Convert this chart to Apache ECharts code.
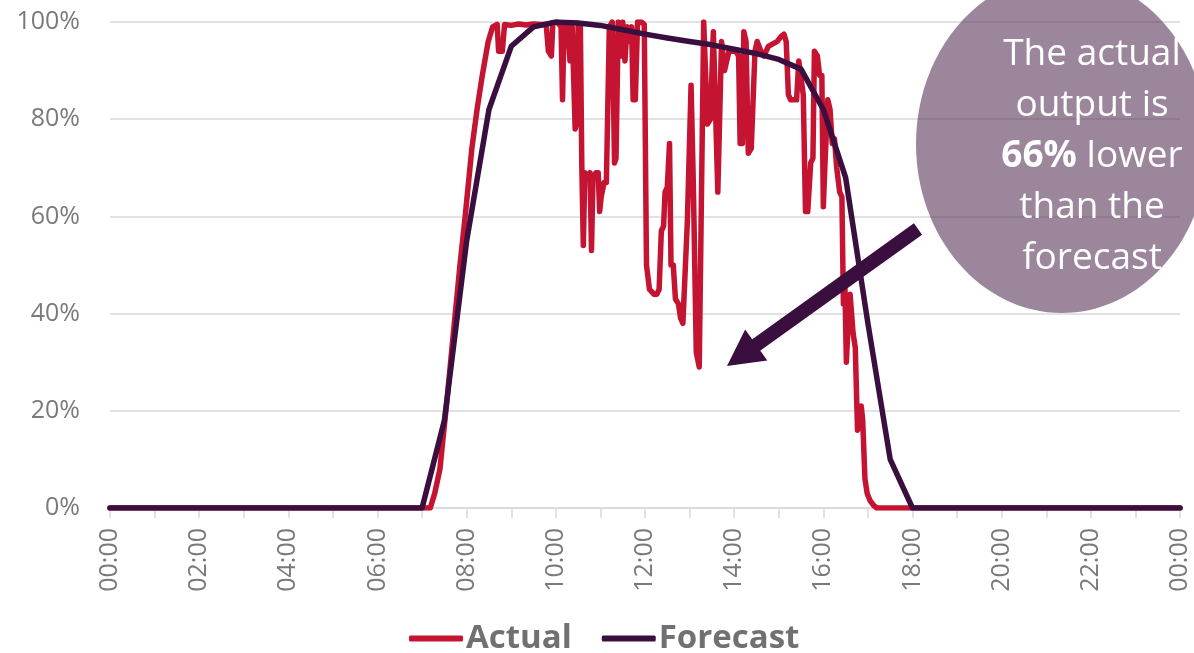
<!DOCTYPE html>
<html>
<head>
<meta charset="utf-8">
<script src="https://cdn.jsdelivr.net/npm/echarts@6/dist/echarts.min.js"></script>
<style>
html,body{margin:0;padding:0;background:#fff;}
#chart{width:1194px;height:653px;}
</style>
</head>
<body>
<div id="chart"></div>
<script>
// ---- Data ----
const xTickHours = [0,2,4,6,8,10,12,14,16,18,20,22,24];
const yTicks = [0,20,40,60,80,100];

const actualTimes = ["00:00","07:11","07:17","07:24","07:34","07:44","07:51","07:58","08:07","08:14","08:21","08:29","08:35","08:41","08:43","08:48","08:51","09:00","09:10","09:20","09:30","09:40","09:47","09:50","09:54","09:56","10:02","10:07","10:09","10:11","10:16","10:19","10:22","10:24","10:26","10:28","10:30","10:33","10:35","10:37","10:39","10:43","10:46","10:48","10:50","10:54","10:57","10:59","11:01","11:05","11:08","11:12","11:16","11:19","11:21","11:24","11:27","11:28","11:30","11:33","11:36","11:39","11:42","11:44","11:47","11:50","11:55","11:59","12:02","12:04","12:06","12:12","12:16","12:19","12:22","12:25","12:27","12:30","12:33","12:35","12:38","12:41","12:45","12:48","12:51","12:57","13:02","13:05","13:09","13:13","13:15","13:19","13:24","13:28","13:32","13:38","13:43","13:47","13:53","14:02","14:06","14:08","14:11","14:13","14:16","14:19","14:23","14:28","14:31","14:36","14:40","14:46","14:52","14:58","15:03","15:07","15:10","15:13","15:16","15:20","15:24","15:27","15:29","15:33","15:36","15:39","15:43","15:46","15:48","15:52","15:55","15:58","16:00","16:02","16:06","16:09","16:12","16:15","16:18","16:22","16:25","16:27","16:29","16:31","16:34","16:36","16:40","16:43","16:46","16:48","16:51","16:53","16:56","16:59","17:03","17:08","17:12","24:00"];
const actualValues = [0,0,3,8,23,39,50,60,74,82,89,96,99,99.5,94,94,99.5,99.3,99.6,99.4,99.6,99.5,99.5,94,93,99.8,100,99,84,99,99.5,92,99,99,78,79,99.5,99.5,70,54,69,68,69,53,68,69,69,61,64,67,67,99,100,71,72,100,99.5,93,100,92,99,96,99,84,84,100,100,99.5,50,50,45,44,44,45,57,58,65,66,75,50,50,43,42,39,38,59,87,67,32,29,29,100,79,80,98,65,96,90,94,94,93,75,75,98,96,73,74,94,96,94,93,95,95.5,96,97,97.5,96,85,84,84,84,92,92,85,61,61,71,72,94,93,89,89,62,70,84,82,75,76,70,65,64,42,46,30,40,44,36,33,16,17,21,18,6,3,1.5,0.5,0,0];

const forecastTimes = ["00:00","07:00","07:30","08:00","08:30","09:00","09:30","10:00","10:30","11:00","11:30","12:00","12:30","13:00","13:30","14:00","14:30","15:00","15:30","16:00","16:30","17:00","17:30","18:00","24:00"];
const forecastValues = [0,0,18,55,82,95,99,100,99.8,99.3,98.4,97.5,96.7,96,95.3,94.4,93.5,92.3,90.3,82,68,38,10,0,0];

const seriesNames = ["Actual","Forecast"];
const calloutLines = ["The actual","output is","{b|66%} lower","than the","forecast"];

function toHours(t){ const p=t.split(":"); return (+p[0]) + (+p[1])/60; }
function pairs(times, vals){ return times.map((t,i)=>[toHours(t), vals[i]]); }
function pad(n){ return (n<10?'0':'')+n; }

const chart = echarts.init(document.getElementById('chart'), null, {renderer:'canvas'});
const FONT = '"Open Sans", "Noto Sans", sans-serif';
const RED = '#c41432';
const DARK = '#3a0f3f';

// annotation geometry (pixels)
const tail = [918, 229], tip = [727, 366];
const dx = tip[0]-tail[0], dy = tip[1]-tail[1];
const L = Math.sqrt(dx*dx+dy*dy);
const ux = dx/L, uy = dy/L, px = -uy, py = ux;
const headLen = 36, headHalf = 19;
const base = [tip[0]-ux*headLen, tip[1]-uy*headLen];

const textGraphics = calloutLines.map((s,i)=>({
  type:'text', z:102,
  style:{
    text:s, x:1092, y:54+i*51,
    fill:'#ffffff', font:'37px '+FONT,
    align:'center', verticalAlign:'middle',
    rich:{ b:{ fontWeight:'bold', fontSize:37, fontFamily:FONT, fill:'#ffffff', color:'#ffffff'} }
  }
}));

chart.setOption({
  animation:false,
  grid:{ left:110, right:14, top:22, bottom:145, containLabel:false },
  legend:{
    data:seriesNames,
    left:404, top:617,
    icon:'roundRect',
    itemWidth:54, itemHeight:6,
    itemGap:30,
    textStyle:{ fontFamily:FONT, fontSize:33, fontWeight:'bold', color:'#6f7173', padding:[0,0,0,-2] }
  },
  xAxis:{
    type:'value', min:0, max:24, interval:1,
    axisLine:{ show:true, lineStyle:{ color:'#d9d9d9', width:1.5 } },
    axisTick:{ show:true, length:10, lineStyle:{ color:'#d9d9d9', width:1.5 } },
    splitLine:{ show:false },
    axisLabel:{
      rotate:90, margin:20, fontFamily:FONT, fontSize:25, color:'#7a7a7a',
      showMinLabel:true, showMaxLabel:true,
      formatter:function(v){ return xTickHours.indexOf(v)>=0 ? pad(v%24)+':00' : ''; }
    }
  },
  yAxis:{
    type:'value', min:0, max:100, interval:20,
    axisLine:{ show:false }, axisTick:{ show:false },
    splitLine:{ show:true, lineStyle:{ color:'#d9d9d9', width:1.5 } },
    axisLabel:{ margin:30, fontFamily:FONT, fontSize:25, color:'#7a7a7a',
      formatter:function(v){ return yTicks.indexOf(v)>=0 ? v+'%' : ''; } }
  },
  series:[
    { name:seriesNames[0], type:'line', data:pairs(actualTimes, actualValues), symbol:'none',
      lineStyle:{ color:RED, width:5.5, join:'round', cap:'round' }, itemStyle:{ color:RED }, z:2 },
    { name:seriesNames[1], type:'line', data:pairs(forecastTimes, forecastValues), symbol:'none',
      lineStyle:{ color:DARK, width:5.5, join:'round', cap:'round' }, itemStyle:{ color:DARK }, z:3 }
  ],
  graphic:[
    { type:'ellipse', z:100, shape:{ cx:1062, cy:144, rx:146, ry:169 },
      style:{ fill:'rgba(94,59,95,0.62)' } },
    { type:'line', z:101, shape:{ x1:tail[0], y1:tail[1], x2:base[0]+ux*2, y2:base[1]+uy*2 },
      style:{ stroke:DARK, lineWidth:14, lineCap:'butt' } },
    { type:'polygon', z:101, shape:{ points:[ tip, [base[0]+px*headHalf, base[1]+py*headHalf], [base[0]-px*headHalf, base[1]-py*headHalf] ] },
      style:{ fill:DARK } }
  ].concat(textGraphics)
});
</script>
</body>
</html>
